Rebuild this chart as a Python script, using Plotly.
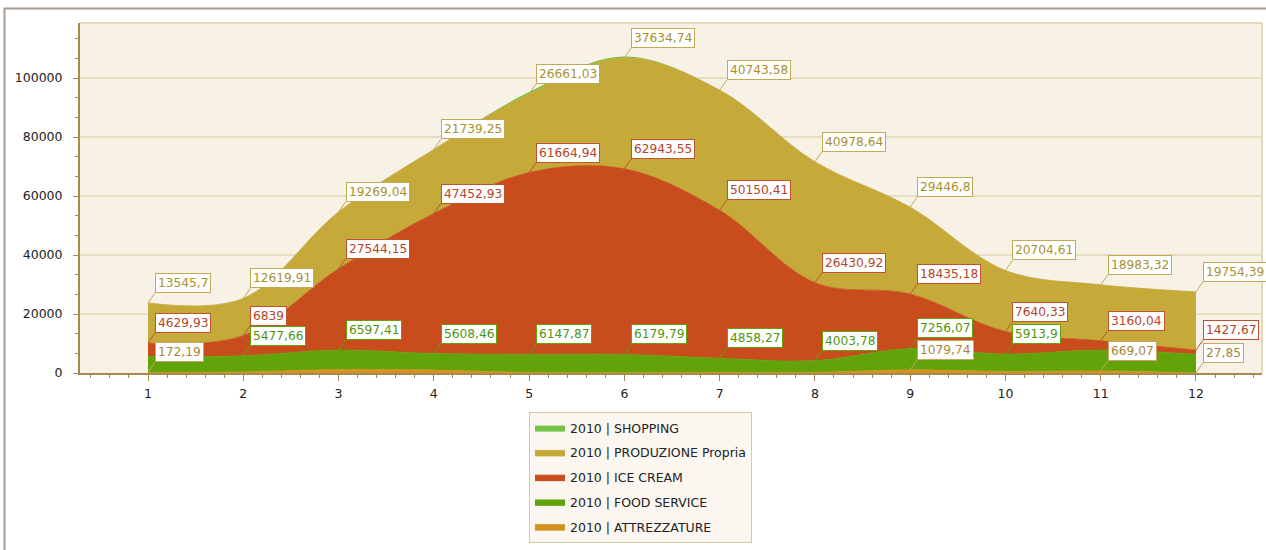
import plotly.graph_objects as go

months = [1, 2, 3, 4, 5, 6, 7, 8, 9, 10, 11, 12]

attrezzature = [172.19, 350, 1200, 1000, 150, 100, 150, 200, 1079.74, 500, 669.07, 27.85]
food_service = [5400, 5477.66, 6597.41, 5608.46, 6147.87, 6179.79, 4858.27, 4003.78, 7256.07, 5913.9, 7100, 6300]
ice_cream = [4629.93, 6839, 27544.15, 47452.93, 61664.94, 62943.55, 50150.41, 26430.92, 18435.18, 7640.33, 3160.04, 1427.67]
produzione = [13545.7, 12619.91, 19269.04, 21739.25, 26661.03, 37634.74, 40743.58, 40978.64, 29446.8, 20704.61, 18983.32, 19754.39]
shopping = [0, 0, 0, 0, 600, 400, 0, 0, 0, 0, 0, 0]

# which point labels are visible in the reference
attr_labels = [1, 0, 0, 0, 0, 0, 0, 0, 1, 0, 1, 1]
food_labels = [0, 1, 1, 1, 1, 1, 1, 1, 1, 1, 0, 0]
ice_labels = [1] * 12
prod_labels = [1] * 12
shop_labels = [0] * 12

series = [
    ("2010 | ATTREZZATURE", attrezzature, attr_labels, "#D4921E", "#A8863A", "#C9A462", 0.8),
    ("2010 | FOOD SERVICE", food_service, food_labels, "#62A30C", "#4E960E", "#62A30C", 0.8),
    ("2010 | ICE CREAM", ice_cream, ice_labels, "#C84C1C", "#B4442A", "#C0522E", 0.8),
    ("2010 | PRODUZIONE Propria", produzione, prod_labels, "#C5AA3A", "#A8912F", "#C2AA55", 0.8),
    ("2010 | SHOPPING", shopping, shop_labels, "#72C447", "#4E960E", "#72C447", 0),
]

FONT = "DejaVu Sans"


def fmt(v):
    s = ("%.2f" % v).rstrip("0").rstrip(".")
    return s.replace(".", ",")


fig = go.Figure()
cum = [0.0] * len(months)
annotations = []
n = len(series)
for i, (name, vals, show, fill, tcol, bcol, lw) in enumerate(series):
    fig.add_trace(go.Scatter(
        x=months, y=vals, name=name, mode="lines",
        stackgroup="one", line=dict(shape="spline", smoothing=1.0, width=lw, color=fill),
        fillcolor=fill, legendgroup="g%d" % i, legendrank=n - i, hoverinfo="skip",
    ))
    cum = [c + v for c, v in zip(cum, vals)]
    for m, c, v, s in zip(months, cum, vals, show):
        if s:
            annotations.append(dict(
                x=m, y=c, xref="x", yref="y", text=fmt(v),
                showarrow=True, arrowhead=0, arrowwidth=1, arrowcolor=bcol,
                ax=7, ay=-10, xanchor="left", yanchor="bottom",
                bgcolor="white", bordercolor=bcol, borderwidth=1, borderpad=2,
                font=dict(family=FONT, size=12.2, color=tcol), standoff=0,
            ))

axis_col = "#A8894F"
W, H = 1266, 550
ml, mr, mt, mb = 80, 4, 23, 177
pw, ph = W - ml - mr, H - mt - mb


def px_x(x):
    return (x - ml) / pw


def px_y(y):
    return (mt + ph - y) / ph


shapes = [
    dict(type="line", xref="paper", yref="paper", x0=0, x1=1, y0=1, y1=1,
         line=dict(color="#E6D8BC", width=2), layer="below"),
    dict(type="line", xref="paper", yref="paper", x0=1, x1=1, y0=0, y1=1,
         line=dict(color="#E6D8BC", width=2), layer="below"),
    dict(type="rect", xref="paper", yref="paper",
         x0=px_x(4.5), x1=px_x(1290), y0=px_y(580), y1=px_y(8.5),
         line=dict(color="#A89C94", width=2), fillcolor="rgba(0,0,0,0)", layer="below"),
]

fig.update_layout(
    width=W, height=H,
    margin=dict(l=ml, r=mr, t=mt, b=mb),
    paper_bgcolor="white",
    plot_bgcolor="#F8F1E6",
    font=dict(family=FONT, size=12.5, color="#222222"),
    showlegend=True,
    legend=dict(
        x=px_x(640.5), y=px_y(412), xanchor="center", yanchor="top",
        traceorder="grouped", bgcolor="#FBF7F0", bordercolor="#D8C8A8", borderwidth=1,
        font=dict(family=FONT, size=12.5, color="#222222"), tracegroupgap=5.5,
    ),
    xaxis=dict(
        range=[0.286, 12.693], tickmode="linear", tick0=1, dtick=1,
        showline=True, linecolor=axis_col, linewidth=2, ticks="outside",
        ticklen=6, tickcolor=axis_col, showgrid=False, zeroline=False,
        tickfont=dict(family=FONT, size=12.5, color="#222222"), ticklabelstandoff=2,
        minor=dict(dtick=0.2, tick0=0, ticklen=3, tickcolor=axis_col, ticks="outside", showgrid=False),
    ),
    yaxis=dict(
        range=[0, 118644], tickmode="linear", tick0=0, dtick=20000, tickformat="d",
        showline=True, linecolor=axis_col, linewidth=2, ticks="outside",
        ticklen=5, tickcolor=axis_col, showgrid=True, gridcolor="#E8DCC4", gridwidth=1.5,
        zeroline=False, tickfont=dict(family=FONT, size=12.5, color="#222222"),
        ticklabelstandoff=8,
        minor=dict(dtick=20000 / 3, tick0=0, ticklen=3, tickcolor=axis_col, ticks="outside", showgrid=False),
    ),
    annotations=annotations,
    shapes=shapes,
)

fig.write_html("out.html", config={"displayModeBar": False},
               post_script="document.body.style.margin='0px';")
